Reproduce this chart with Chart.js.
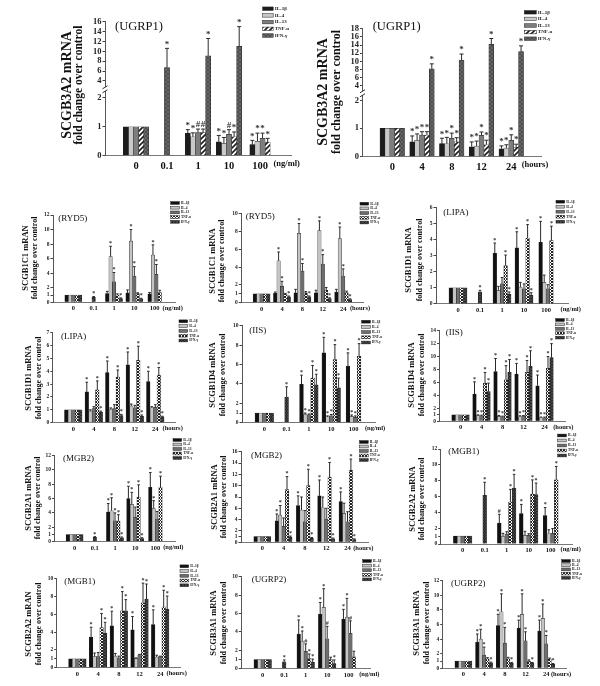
<!DOCTYPE html>
<html>
<head>
<meta charset="utf-8">
<style>
  body { margin: 0; background: #fff; }
  #page { position: relative; width: 600px; height: 686px; overflow: hidden; filter: blur(0.3px); }
  #page canvas { position: absolute; left: 0; top: 0; }
</style>
</head>
<body>
<div id="page"></div>
<script src="https://cdn.jsdelivr.net/npm/chart.js@4/dist/chart.umd.js"></script>
<script>
const seriesNames = ['IL-1β', 'IL-4', 'IL-13', 'TNF-α', 'IFN-γ'];
const doseCats = ['0', '0.1', '1', '10', '100'];
const timeCats = ['0', '4', '8', '12', '24'];

const ticks6 = [0, 1, 2, 3, 4, 5, 6];
const ticks7 = [0, 1, 2, 3, 4, 5, 6, 7];
const ticks10 = [0, 1, 2, 4, 6, 8, 10];
const ticks12 = [0, 1, 2, 4, 6, 8, 10, 12];
const ticks14 = [0, 1, 2, 4, 6, 8, 10, 12, 14];
const ticks16 = [0, 1, 2, 4, 6, 8, 10, 12, 14, 16];
const ticks18 = [0, 1, 2, 4, 6, 8, 10, 12, 14, 16, 18];

// every table is one row per series: IL-1b, IL-4, IL-13, TNF, IFN
const ugrp1DoseVals = [[1, null, .78, .48, .38], [1, null, .65, .43, .5], [1, null, .8, .74, .6], [1, null, .8, .65, .47], [1, 6.7, 9.1, 11, null]];
const ugrp1DoseTops = [[1, null, .9, .7, .53], [1, null, .79, .63, .78], [1, null, .92, .9, .78], [1, null, .92, .82, .6], [1, 10.6, 12.6, 15, null]];
const ugrp1DoseMarks = ['  ***', '  ***', '  ##*', '  #**', ' *** '];

const ugrp1TimeVals = [[1, .52, .46, .35, .28], [1, .58, .45, .37, .3], [1, .76, .65, .75, .58], [1, .76, .52, .42, .33], [1, 8.2, 10.3, 14.2, 12.4]];
const ugrp1TimeTops = [[1, .73, .65, .52, .38], [1, .8, .68, .55, .42], [1, .88, .83, .87, .77], [1, .88, .67, .58, .44], [1, 9.4, 11.8, 15.6, 13.8]];
const ugrp1TimeMarks = [' ****', ' ****', ' ****', ' ****', ' ****'];

const ryd5DoseVals = [[1, null, 1.2, 1.3, 1.15], [1, null, 6.3, 8.4, 6.5], [1, null, 2.8, 3.6, 3.85], [1, null, 1, 1.2, 1.35], [1, .7, .5, .45, null]];
const ryd5DoseTops = [[1, null, 1.5, 1.7, 1.35], [1, null, 7.7, 10, 7.9], [1, null, 4.1, 4.9, 5.2], [1, null, 1.15, 1.3, 1.65], [1, .8, .6, .55, null]];
const ryd5DoseMarks = ['     ', '  ***', '  ***', '     ', ' *** '];

const ryd5TimeVals = [[1, 1.05, 1.1, 1.1, 1.2], [1, 4.7, 7.8, 8.1, 7.2], [1, 1.85, 3.55, 4.35, 3], [1, .95, 1.1, 1.4, 1.15], [1, .65, .65, .45, .35]];
const ryd5TimeTops = [[1, 1.2, 1.5, 1.4, 1.5], [1, 5.7, 8.9, 9.2, 8.5], [1, 2.4, 4.4, 5.4, 3.8], [1, 1.05, 1.25, 1.7, 1.3], [1, .75, .75, .55, .43]];
const ryd5TimeMarks = ['     ', ' ****', ' ****', '     ', ' ****'];

const lipaDoseVals = [[1, null, 3.15, 3.5, 3.85], [1, null, .85, 1.05, 1.35], [1, null, 1.25, .95, .95], [1, null, 2.4, 4.1, 3.95], [1, .75, .6, .55, null]];
const lipaDoseTops = [[1, null, 3.8, 4.5, 5.15], [1, null, 1.1, 1.35, 1.8], [1, null, 1.65, 1.25, 1.2], [1, null, 3.05, 4.95, 4.85], [1, .85, .75, .7, null]];
const lipaDoseMarks = ['  ***', '     ', '     ', '  ***', ' *** '];

const lipaTimeVals = [[1, 2.4, 3.9, 4.5, 3.2], [1, .9, 1.05, 1.3, 1.15], [1, 1.1, 1.1, 1.15, 1.2], [1, 2.55, 3.55, 4.85, 3.7], [1, .8, .55, .5, .45]];
const lipaTimeTops = [[1, 3.15, 4.8, 5.5, 4], [1, 1, 1.15, 1.45, 1.25], [1, 1.25, 1.4, 1.35, 1.4], [1, 3.25, 4.1, 5.95, 4.3], [1, .9, .65, .6, .5]];
const lipaTimeMarks = [' ****', '     ', '     ', ' ****', ' ****'];

const iisDoseVals = [[1, null, 3.95, 7.2, 5.85], [1, null, .85, .6, .65], [1, null, .8, .7, .55], [1, null, 4.6, 6.5, 6.85], [1, 2.65, 3.9, 3.6, null]];
const iisDoseTops = [[1, null, 4.9, 8.8, 7.2], [1, null, 1, .7, .8], [1, null, .9, .85, .7], [1, null, 5.9, 8.05, 8.15], [1, 3.7, 5, 4.6, null]];
const iisDoseMarks = ['  ***', '  ***', '  ***', '  ***', ' *** '];

const iisTimeVals = [[1, 4.2, 7.7, 7.3, 5.5], [1, .9, .75, .7, .55], [1, .85, .7, .8, .55], [1, 5.85, 6.4, 7.55, 8.2], [1, 4.6, 7.6, 8.5, 9.85]];
const iisTimeTops = [[1, 6.1, 9.7, 8.95, 7.15], [1, 1, .9, .85, .65], [1, .95, .8, .9, .65], [1, 7.55, 8.6, 9.4, 10], [1, 5.9, 9.55, 10.9, 12]];
const iisTimeMarks = [' ****', ' ****', ' ****', ' ****', ' ****'];

const mgb2DoseVals = [[1, null, 4.1, 6, 7.55], [1, null, 4.3, 5.2, 4.6], [1, null, 2.9, 3.4, 3.15], [1, null, 2.85, 6.2, 7.6], [1, .6, .55, .45, null]];
const mgb2DoseTops = [[1, null, 5.3, 7.7, 9.6], [1, null, 6.1, 6.85, 5.7], [1, null, 4, 4.8, 4.2], [1, null, 3.75, 7.9, 9.1], [1, .7, .65, .55, null]];
const mgb2DoseMarks = ['  ***', '  ***', '  *  ', '  ***', ' *** '];

const mgb2TimeVals = [[1, 3.8, 6.5, 8.2, 7.2], [1, 4.8, 5.7, 6.1, 5.1], [1, 2.8, 3.6, 4.1, 3.6], [1, 9.3, 10, 11.5, 12.7], [1, .9, .7, .6, .5]];
const mgb2TimeTops = [[1, 5, 8.2, 11, 8.9], [1, 6.5, 8, 8, 6.9], [1, 4.3, 5.6, 6, 5.4], [1, 11.6, 12.9, 14.1, 14.7], [1, 1.1, .85, .75, .6]];
const mgb2TimeMarks = [' ****', ' *   ', '     ', ' ****', ' ****'];

const mgb1DoseVals = [[1, null, 2.65, 3.85, 3.6], [1, null, .95, 1.1, 1.3], [1, null, 1.25, 1.1, 1.35], [1, null, 5.3, 6.3, 8.1], [1, 6.15, 7.05, 6.25, null]];
const mgb1DoseTops = [[1, null, 3.75, 5, 4.6], [1, null, 1.35, 1.6, 1.8], [1, null, 1.55, 1.3, 1.95], [1, null, 6.9, 8.1, 9.8], [1, 7.8, 8.8, 7.7, null]];
const mgb1DoseMarks = ['  #**', '     ', '     ', '  ***', ' *** '];

const mgb1TimeVals = [[1, 3.45, 4.7, 4.25, 4.85], [1, 1.25, 1.3, 1.05, 1.2], [1, 1.25, 1.1, 1.45, 1.25], [1, 4.5, 6.4, 7.3, 6.85], [1, 3.85, 6.4, 7.7, 6.55]];
const mgb1TimeTops = [[1, 4.55, 6.35, 5.75, 6.5], [1, 1.65, 1.6, 1.1, 1.4], [1, 1.7, 1.3, 1.5, 1.3], [1, 6.1, 8.55, 9.5, 8.7], [1, 5.1, 7.65, 9.4, 8.05]];
const mgb1TimeMarks = [' ****', '     ', '     ', ' ****', ' ****'];

const ugrp2DoseVals = [[1, null, 3.77, 5.9, 5.4], [1, null, 3, 6.67, 5.6], [1, null, 1.9, 3.26, 3.85], [1, null, 1.1, 1, 1.3], [1, .76, .7, .55, null]];
const ugrp2DoseTops = [[1, null, 5.3, 7.2, 6.45], [1, null, 4.1, 8.7, 7.65], [1, null, 2.7, 4.6, 5.2], [1, null, 1.6, 1.25, 1.9], [1, .95, 1.05, .95, null]];
const ugrp2DoseMarks = ['  ***', '  ***', '  ###', '  *  ', ' *** '];

const ugrp2TimeVals = [[1, 3.55, 5.85, 5.5, 5.1], [1, 4, 7.75, 7.4, 6.85], [1, 1.8, 3.45, 3.75, 3.35], [1, 1.3, 1.3, .95, 1.25], [1, .75, .7, .7, .55]];
const ugrp2TimeTops = [[1, 4.7, 7.4, 6.6, 6.6], [1, 5.35, 10.2, 10.2, 8.8], [1, 2.9, 5.6, 5, 4.5], [1, 1.45, 1.5, 1.15, 1.4], [1, .85, .8, .8, .65]];
const ugrp2TimeMarks = [' ****', ' ****', ' ****', '     ', ' ****'];

// piecewise y axis for the two big panels, the break sits between 2 and 4
class BrokenScale extends Chart.LinearScale {
  getDecimalForValue(value) {
    const vals = this.options.knotValues;
    const fracs = this.options.knotFractions;
    for (let i = 1; i < vals.length; i++) {
      if (value <= vals[i]) {
        return fracs[i - 1] + (value - vals[i - 1]) / (vals[i] - vals[i - 1]) * (fracs[i] - fracs[i - 1]);
      }
    }
    return 1;
  }
  getPixelForValue(value) {
    return value === null ? NaN : this.getPixelForDecimal(this.getDecimalForValue(value));
  }
}
BrokenScale.id = 'broken';
BrokenScale.defaults = Chart.LinearScale.defaults;
Chart.register(BrokenScale);

function makePattern(base, line, size, cross) {
  const tile = document.createElement('canvas');
  tile.width = size;
  tile.height = size;
  const c = tile.getContext('2d');
  c.fillStyle = base;
  c.fillRect(0, 0, size, size);
  c.strokeStyle = line;
  c.lineWidth = size / 3;
  c.beginPath();
  c.moveTo(-1, size + 1); c.lineTo(size + 1, -1);
  c.moveTo(-1, 1); c.lineTo(1, -1);
  c.moveTo(size - 1, size + 1); c.lineTo(size + 1, size - 1);
  if (cross) {
    c.moveTo(-1, -1); c.lineTo(size + 1, size + 1);
  }
  c.stroke();
  return c.createPattern(tile, 'repeat');
}

const serif = 'Liberation Serif';
// scale boxes are kept this big because Chart.js clips tick labels to them
const yBoxWidth = 40;
const xBoxHeight = 14;

const extras = {
  id: 'extras',
  afterDatasetsDraw(chart, args, opts) {
    const ctx = chart.ctx;
    const y = chart.scales.y;
    ctx.save();
    ctx.strokeStyle = '#2a2a2a';
    ctx.lineWidth = 1;
    ctx.textAlign = 'center';
    ctx.textBaseline = 'middle';
    chart.data.datasets.forEach((ds, i) => {
      chart.getDatasetMeta(i).data.forEach((bar, j) => {
        const val = ds.data[j];
        if (val === null) return;
        const top = ds.tops[j];
        const yTop = y.getPixelForValue(top);
        if (top > val) {
          ctx.beginPath();
          ctx.moveTo(bar.x, bar.y);
          ctx.lineTo(bar.x, yTop);
          ctx.moveTo(bar.x - opts.cap, yTop);
          ctx.lineTo(bar.x + opts.cap, yTop);
          ctx.stroke();
        }
        if (ds.marks[j] !== ' ') {
          ctx.fillStyle = '#333';
          ctx.font = 'bold ' + opts.markSize + 'px "' + serif + '"';
          ctx.fillText(ds.marks[j], bar.x, yTop - opts.markSize * 0.45);
        }
      });
    });
    ctx.restore();
  },
  afterDraw(chart, args, opts) {
    const ctx = chart.ctx;
    const area = chart.chartArea;
    ctx.save();
    ctx.fillStyle = '#111';

    // rotated gene and fold change titles
    ctx.textAlign = 'center';
    ctx.textBaseline = 'middle';
    opts.titleLines.forEach((line, i) => {
      ctx.save();
      ctx.translate(opts.titleX[i], opts.titleY);
      ctx.rotate(-Math.PI / 2);
      ctx.font = 'bold ' + opts.titleSize[i] + 'px "' + serif + '"';
      ctx.fillText(line, 0, 0);
      ctx.restore();
    });

    // (UGRP1) style tag
    ctx.textAlign = 'left';
    ctx.font = opts.tagSize + 'px "' + serif + '"';
    ctx.fillText(opts.tag[0], opts.tag[1], opts.tag[2]);

    // unit next to the last category
    ctx.textAlign = 'center';
    ctx.textBaseline = 'top';
    ctx.font = 'bold ' + opts.unitSize + 'px "' + serif + '"';
    ctx.fillText(opts.unit[0], opts.unit[1], area.bottom + opts.labelPad);

    // legend
    const leg = opts.legend;
    ctx.textAlign = 'left';
    ctx.textBaseline = 'middle';
    ctx.font = 'bold ' + leg.size + 'px "' + serif + '"';
    chart.data.datasets.forEach((ds, i) => {
      const rowY = leg.y + i * leg.gap;
      ctx.fillStyle = ds.backgroundColor;
      ctx.fillRect(leg.x, rowY - leg.h / 2, leg.w, leg.h);
      ctx.strokeStyle = '#222';
      ctx.lineWidth = 0.5;
      ctx.strokeRect(leg.x, rowY - leg.h / 2, leg.w, leg.h);
      ctx.fillStyle = '#222';
      ctx.fillText(ds.label, leg.x + leg.w + 1.5, rowY);
    });

    // axis break
    if (opts.breakAt) {
      const by = chart.scales.y.getPixelForValue(opts.breakAt);
      ctx.clearRect(area.left - 1.5, by - 2, 3, 4);
      ctx.strokeStyle = '#333';
      ctx.lineWidth = 1;
      ctx.beginPath();
      ctx.moveTo(area.left - 2.5, by - 0.5); ctx.lineTo(area.left + 2.5, by - 3.5);
      ctx.moveTo(area.left - 2.5, by + 3.5); ctx.lineTo(area.left + 2.5, by + 0.5);
      ctx.stroke();
    }
    ctx.restore();
  }
};

const page = document.getElementById('page');

function addPanel(p) {
  const big = !!p.big;
  const size = big ? { x: 10.5, y: 8.5, tag: 12.5, mark: 9, cap: 2, pad: 4, unit: 8.5 } : { x: 6.5, y: 5.5, tag: 9, mark: 6, cap: 1.3, pad: 2.5, unit: 6.5 };
  const canvas = document.createElement('canvas');
  canvas.width = 600;
  canvas.height = 686;
  page.appendChild(canvas);

  const fills = big ? bigFills : smallFills;
  const datasets = seriesNames.map((name, i) => ({
    label: name,
    data: [null, ...p.vals[i], null],
    tops: [null, ...p.tops[i], null],
    marks: [' ', ...p.marks[i].split(''), ' '],
    backgroundColor: fills[i],
    borderColor: '#222',
    borderWidth: 0.5,
    barThickness: p.barW,
    skipNull: true
  }));

  const yScale = {
    type: p.knotValues ? 'broken' : 'linear',
    min: 0,
    max: p.yTicks[p.yTicks.length - 1],
    afterBuildTicks: s => { s.ticks = p.yTicks.map(v => ({ value: v })); },
    afterFit: s => { s.width = yBoxWidth; },
    grid: { drawOnChartArea: false, tickLength: 2.5, color: '#444', lineWidth: 1 },
    border: { color: '#555', width: 1 },
    ticks: { autoSkip: false, padding: 1, color: '#222', font: { family: serif, size: size.y, weight: 'bold' }, callback: v => String(v) }
  };
  if (p.knotValues) {
    yScale.knotValues = p.knotValues;
    yScale.knotFractions = p.knotFractions;
  }

  new Chart(canvas, {
    type: 'bar',
    data: { labels: ['', ...p.cats, ''], datasets },
    options: {
      responsive: false,
      animation: false,
      events: [],
      layout: { padding: { left: p.box[0] - yBoxWidth, top: p.box[1], right: 600 - p.box[2], bottom: 686 - p.box[3] - xBoxHeight } },
      scales: {
        x: {
          offset: false,
          afterFit: s => { s.height = xBoxHeight; },
          grid: { display: false, drawTicks: false },
          border: { color: '#777', width: 1 },
          ticks: { autoSkip: false, maxRotation: 0, padding: size.pad, color: '#111', font: { family: serif, size: size.x, weight: 'bold' } }
        },
        y: yScale
      },
      plugins: {
        legend: { display: false },
        tooltip: { enabled: false },
        extras: {
          cap: size.cap,
          markSize: size.mark,
          titleLines: p.titles,
          titleX: p.titleX,
          titleY: p.titleY,
          titleSize: p.titleSize,
          tag: p.tag,
          tagSize: size.tag,
          unit: p.unit,
          unitSize: size.unit,
          labelPad: size.pad,
          legend: p.legend,
          breakAt: p.breakAt
        }
      }
    },
    plugins: [extras]
  });
}

const bigFills = ['#1c1c1c', '#c9c9c9', '#7d7d7d', makePattern('#fff', '#222', 5, false), makePattern('#3c3c3c', '#666', 4, true)];
const smallFills = ['#111', '#c4c4c4', '#6e6e6e', makePattern('#fff', '#222', 3, true), makePattern('#262626', '#444', 3, true)];
const foldTitle = 'fold change over control';
const smallTitle = [8.5, 8];

addPanel({ big: true, vals: ugrp1DoseVals, tops: ugrp1DoseTops, marks: ugrp1DoseMarks, cats: doseCats, yTicks: ticks16, knotValues: [0, 1, 2, 4, 16], knotFractions: [0, .216, .433, .558, 1], breakAt: 3,
  box: [105, 21.7, 291, 155.7], barW: 5.1, titles: ['SCGB3A2 mRNA', foldTitle], titleX: [67, 79.5], titleY: 85, titleSize: [14, 11.5], tag: ['(UGRP1)', 115, 26.7], unit: ['(ng/ml)', 286.7], legend: { x: 262.7, y: 8.7, gap: 6.7, w: 10.5, h: 3.5, size: 5 } });
addPanel({ big: true, vals: ugrp1TimeVals, tops: ugrp1TimeTops, marks: ugrp1TimeMarks, cats: timeCats, yTicks: ticks18, knotValues: [0, 1, 2, 4, 18], knotFractions: [0, .222, .438, .553, 1], breakAt: 3,
  box: [362.5, 28.7, 541, 156.7], barW: 4.9, titles: ['SCGB3A2 mRNA', foldTitle], titleX: [323.3, 337], titleY: 92, titleSize: [14, 12], tag: ['(UGRP1)', 372.7, 26.7], unit: ['(hours)', 535], legend: { x: 524.3, y: 12.3, gap: 6.6, w: 12, h: 3.5, size: 5 } });

addPanel({ vals: ryd5DoseVals, tops: ryd5DoseTops, marks: ryd5DoseMarks, cats: doseCats, yTicks: ticks12,
  box: [53, 215, 175, 302.3], barW: 3.4, titles: ['SCGB1C1 mRAN', foldTitle], titleX: [26, 35], titleY: 258, titleSize: smallTitle, tag: ['(RYD5)', 58.3, 219], unit: ['(ng/ml)', 172.7], legend: { x: 170.7, y: 203, gap: 4.7, w: 8.7, h: 2.8, size: 3.5 } });
addPanel({ vals: ryd5TimeVals, tops: ryd5TimeTops, marks: ryd5TimeMarks, cats: timeCats, yTicks: ticks10,
  box: [241.2, 213.7, 363.6, 302.7], barW: 3.4, titles: ['SCGB1C1 mRNA', foldTitle], titleX: [212.3, 221.7], titleY: 261, titleSize: smallTitle, tag: ['(RYD5)', 245.7, 216.7], unit: ['(hours)', 360], legend: { x: 360, y: 203.7, gap: 4.7, w: 8.7, h: 2.8, size: 3.5 } });
addPanel({ vals: lipaDoseVals, tops: lipaDoseTops, marks: lipaDoseMarks, cats: doseCats, yTicks: ticks6,
  box: [436, 207.7, 568, 304], barW: 3.6, titles: ['SCGB1D1 mRNA', foldTitle], titleX: [409, 420], titleY: 260, titleSize: smallTitle, tag: ['(LIPA)', 443.3, 212.3], unit: ['(ng/ml)', 570.7], legend: { x: 556, y: 201.7, gap: 5, w: 8.7, h: 2.8, size: 3.5 } });

addPanel({ vals: lipaTimeVals, tops: lipaTimeTops, marks: lipaTimeMarks, cats: timeCats, yTicks: ticks7,
  box: [52.8, 332.7, 175.8, 422.7], barW: 3.5, titles: ['SCGB1D1 mRNA', foldTitle], titleX: [29, 39.3], titleY: 378, titleSize: smallTitle, tag: ['(LIPA)', 61, 336.7], unit: ['(hours)', 172.7], legend: { x: 179, y: 321.3, gap: 4.8, w: 8.7, h: 2.8, size: 3.5 } });
addPanel({ vals: iisDoseVals, tops: iisDoseTops, marks: iisDoseMarks, cats: doseCats, yTicks: ticks10,
  box: [242, 325.7, 375.8, 422.7], barW: 3.7, titles: ['SCGB1D4 mRNA', foldTitle], titleX: [212.3, 223.3], titleY: 375, titleSize: smallTitle, tag: ['(IIS)', 249.3, 330.3], unit: ['(ng/ml)', 375], legend: { x: 361.7, y: 321.7, gap: 5.2, w: 8.7, h: 2.8, size: 3.5 } });
addPanel({ vals: iisTimeVals, tops: iisTimeTops, marks: iisTimeMarks, cats: timeCats, yTicks: ticks14,
  box: [439.5, 330.7, 565.5, 421.3], barW: 3.5, titles: ['SCGB1D4 mRNA', foldTitle], titleX: [411.7, 422.3], titleY: 375, titleSize: smallTitle, tag: ['(IIS)', 445.7, 332.3], unit: ['(hours)', 563.3], legend: { x: 555.7, y: 320, gap: 4.4, w: 8.7, h: 2.8, size: 3.5 } });

addPanel({ vals: mgb2DoseVals, tops: mgb2DoseTops, marks: mgb2DoseMarks, cats: doseCats, yTicks: ticks12,
  box: [54.4, 455.3, 175.6, 541.7], barW: 3.4, titles: ['SCGB2A1 mRNA', foldTitle], titleX: [28.3, 38.3], titleY: 498, titleSize: smallTitle, tag: ['(MGB2)', 63, 458.7], unit: ['(ng/ml)', 173.3], legend: { x: 173, y: 440, gap: 4.5, w: 8.7, h: 2.8, size: 3.5 } });
addPanel({ vals: mgb2TimeVals, tops: mgb2TimeTops, marks: mgb2TimeMarks, cats: timeCats, yTicks: ticks16,
  box: [241, 451.7, 368.8, 542.3], barW: 3.4, titles: ['SCGB2A1 mRNA', foldTitle], titleX: [214.3, 224], titleY: 497, titleSize: smallTitle, tag: ['(MGB2)', 251, 455.3], unit: ['(hours)', 363.3], legend: { x: 359.5, y: 442, gap: 4.5, w: 8.7, h: 2.8, size: 3.5 } });
addPanel({ vals: mgb1DoseVals, tops: mgb1DoseTops, marks: mgb1DoseMarks, cats: doseCats, yTicks: ticks12,
  box: [440.7, 449, 572.7, 544], barW: 3.7, titles: ['SCGB2A2 mRNA', foldTitle], titleX: [412.3, 422.3], titleY: 499, titleSize: smallTitle, tag: ['(MGB1)', 448.3, 451.7], unit: ['(ng/ml)', 570.7], legend: { x: 557.7, y: 435.5, gap: 5, w: 8.7, h: 2.8, size: 3.5 } });

addPanel({ vals: mgb1TimeVals, tops: mgb1TimeTops, marks: mgb1TimeMarks, cats: timeCats, yTicks: ticks10,
  box: [56.7, 578.7, 180.9, 667.7], barW: 3.5, titles: ['SCGB2A2 mRAN', foldTitle], titleX: [29, 39.3], titleY: 624, titleSize: smallTitle, tag: ['(MGB1)', 64.3, 581.7], unit: ['(hours)', 176.7], legend: { x: 180, y: 566.3, gap: 4.75, w: 8.7, h: 2.8, size: 3.5 } });
addPanel({ vals: ugrp2DoseVals, tops: ugrp2DoseTops, marks: ugrp2DoseMarks, cats: doseCats, yTicks: ticks10,
  box: [241.2, 576.7, 370.2, 668.7], barW: 3.5, titles: ['SCGB3A1 mRNA', foldTitle], titleX: [213.3, 224], titleY: 623, titleSize: smallTitle, tag: ['(UGRP2)', 251.7, 579.3], unit: ['(ng/ml)', 369.3], legend: { x: 362.7, y: 561, gap: 4.6, w: 8.7, h: 2.8, size: 3.5 } });
addPanel({ vals: ugrp2TimeVals, tops: ugrp2TimeTops, marks: ugrp2TimeMarks, cats: timeCats, yTicks: ticks12,
  box: [442.7, 580.7, 566.9, 668.3], barW: 3.4, titles: ['SCGB3A1 mRNA', foldTitle], titleX: [416.7, 427], titleY: 623, titleSize: smallTitle, tag: ['(UGRP2)', 451, 583.3], unit: ['(hours)', 561], legend: { x: 561.7, y: 561, gap: 4.2, w: 8.7, h: 2.8, size: 3.5 } });
</script>
</body>
</html>
